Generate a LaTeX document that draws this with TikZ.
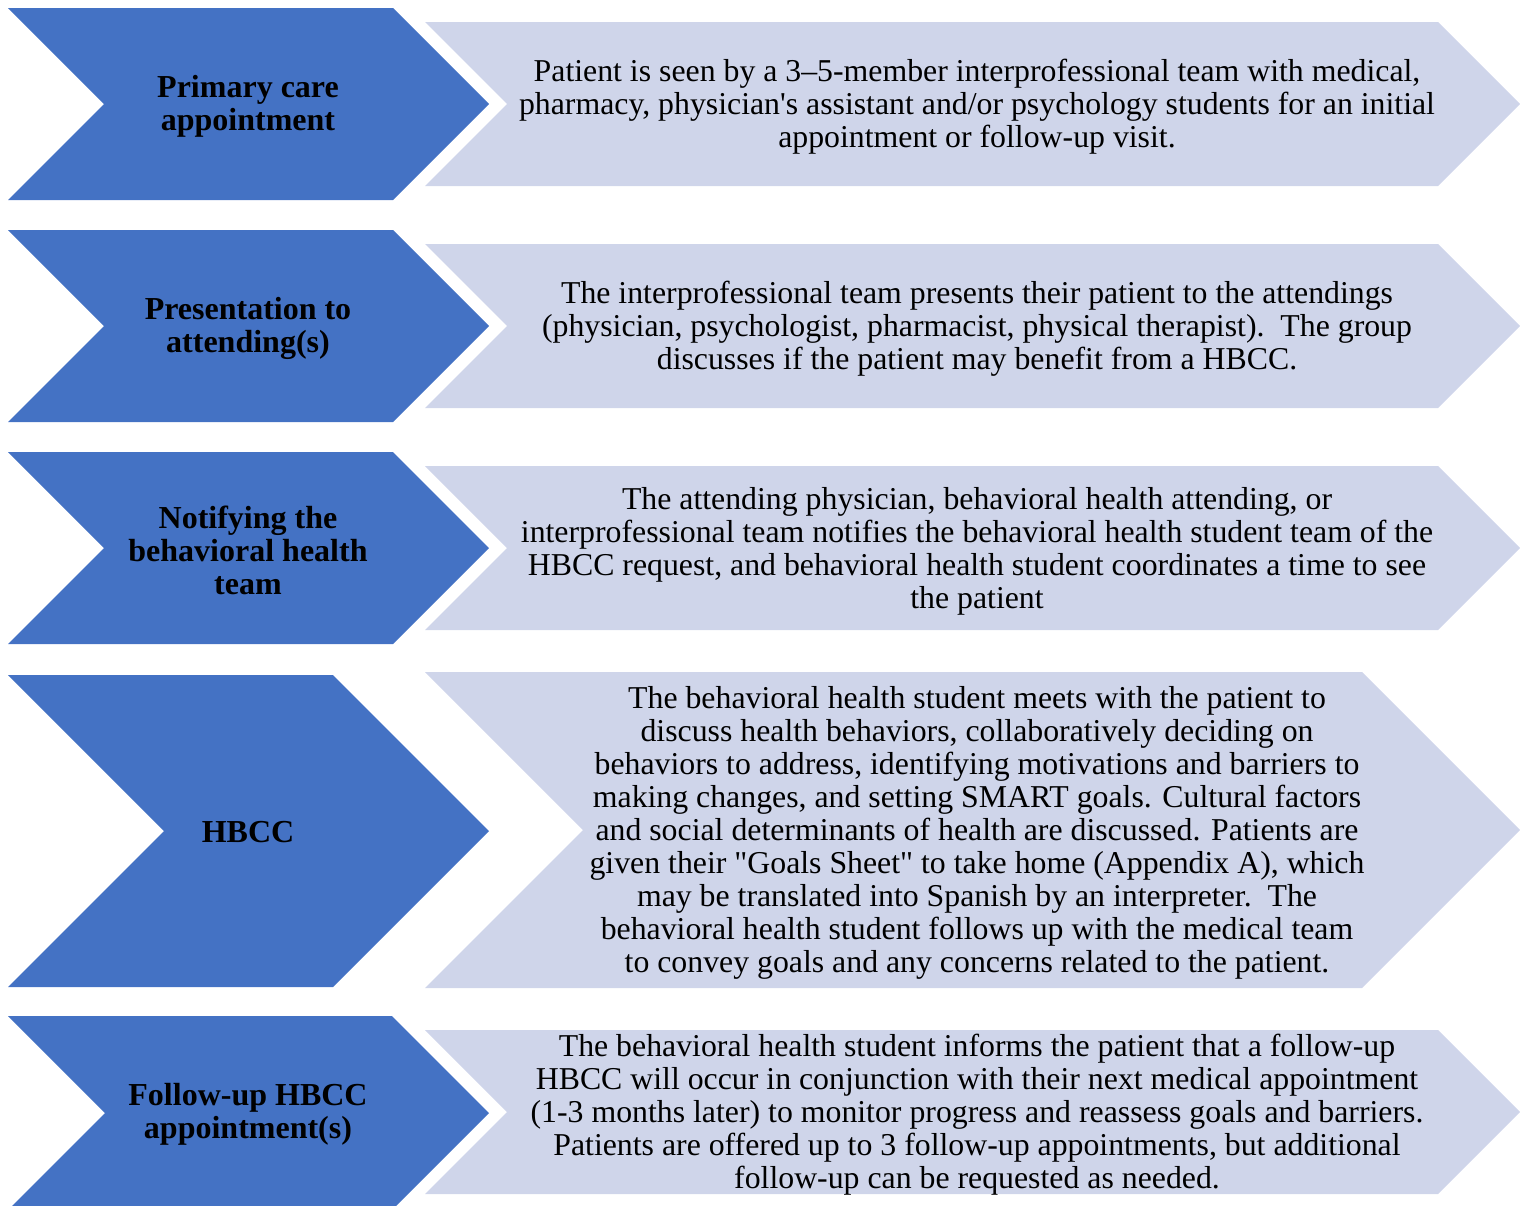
\documentclass[tikz,border=0pt]{standalone}
\usepackage{fontspec}
\setmainfont{Liberation Serif}
\usepackage{tikz}
\usetikzlibrary{positioning}

\definecolor{stepblue}{HTML}{4472C4}
\definecolor{steplight}{HTML}{CFD5EA}

% chevron between x=#2..#3 and y=#4..#5 (pixel units, y downwards), 45 degree edges
\newcommand{\chevronshape}[5]{%
  \fill[#1] (#2,#4) -- ({#3-(#5-#4)/2},#4) -- (#3,{(#4+#5)/2})
    -- ({#3-(#5-#4)/2},#5) -- (#2,#5) -- ({#2+(#5-#4)/2},{(#4+#5)/2}) -- cycle;}

\tikzset{
  head/.style={align=center, font=\fontsize{16}{16.5}\selectfont\bfseries,
               inner sep=0pt},
  desc/.style={align=center, font=\fontsize{15.9}{16.5}\selectfont,
               inner sep=0pt},
}

\begin{document}
\begin{tikzpicture}[x=0.5pt, y=-0.5pt]
  \clip (0,0) rectangle (1520,1205);
  % descriptions (light chevrons)
  \chevronshape{steplight}{425}{1520}{22}{186}
  \chevronshape{steplight}{425}{1520}{244}{408}
  \chevronshape{steplight}{425}{1520}{466}{630}
  \chevronshape{steplight}{425}{1520}{672}{988}
  \chevronshape{steplight}{425}{1520}{1030}{1194}
  % steps (blue chevrons)
  \chevronshape{stepblue}{8}{489}{8}{200}
  \chevronshape{stepblue}{8}{489}{230}{422}
  \chevronshape{stepblue}{8}{489}{452}{644}
  \chevronshape{stepblue}{8}{489}{675}{987}
  \chevronshape{stepblue}{8}{489}{1016}{1210}

  % step titles
  \node[head] (s1) at (248,106) {Primary care\\appointment};
  \node[head] (s2) at (248,328) {Presentation to\\attending(s)};
  \node[head] (s3) at (248,550) {Notifying the\\behavioral health\\team};
  \node[head] (s4) at (248,832) {HBCC};
  \node[head] (s5) at (248,1114) {Follow-up HBCC\\appointment(s)};

  % step texts
  \node[desc] (d1) at (977,107) {Patient is seen by a 3–5-member interprofessional team with medical,\\
    pharmacy, physician\textquotesingle s assistant and/or psychology students for an initial\\
    appointment or follow-up visit.};
  \node[desc] (d2) at (977,329) {The interprofessional team presents their patient to the attendings\\
    (physician, psychologist, pharmacist, physical therapist).\ \ The group\\
    discusses if the patient may benefit from a HBCC.};
  \node[desc] (d3) at (977,551) {The attending physician, behavioral health attending, or\\
    interprofessional team notifies the behavioral health student team of the\\
    HBCC request, and behavioral health student coordinates a time to see\\
    the patient};
  \node[desc] (d4) at (977,833) {The behavioral health student meets with the patient to\\
    discuss health behaviors, collaboratively deciding on\\
    behaviors to address, identifying motivations and barriers to\\
    making changes, and setting SMART goals. Cultural factors\\
    and social determinants of health are discussed. Patients are\\
    given their \textquotedbl Goals Sheet\textquotedbl{} to take home (Appendix A), which\\
    may be translated into Spanish by an interpreter.\ \ The\\
    behavioral health student follows up with the medical team\\
    to convey goals and any concerns related to the patient.};
  \node[desc] (d5) at (977,1115) {The behavioral health student informs the patient that a follow-up\\
    HBCC will occur in conjunction with their next medical appointment\\
    (1-3 months later) to monitor progress and reassess goals and barriers.\\
    Patients are offered up to 3 follow-up appointments, but additional\\
    follow-up can be requested as needed.};
\end{tikzpicture}
\end{document}
